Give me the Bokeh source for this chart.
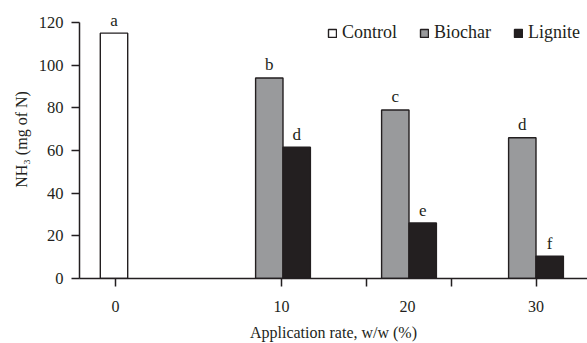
from bokeh.plotting import figure
from bokeh.models import Range1d, FixedTicker, Legend, LegendItem, ColumnDataSource
from bokeh.core.properties import value
from bokeh.embed import file_html
from bokeh.resources import INLINE

# ---- data ----
rates = ["0", "10", "20", "30"]
control_rates = ["0"]
control_vals = [115]
control_letters = ["a"]
biochar_rates = ["10", "20", "30"]
biochar_vals = [94, 79, 66]
biochar_letters = ["b", "c", "d"]
lignite_rates = ["10", "20", "30"]
lignite_vals = [61.5, 26, 10.5]
lignite_letters = ["d", "e", "f"]
x_title = "Application rate, w/w (%)"
y_title = "NH\u2083 (mg of N)"

# ---- layout (x units: 1 unit = 1 px right of the y axis) ----
FONT = "'Liberation Serif', 'Times New Roman', serif"
bar_w = 27.4
group_anchor = {"0": 34.5, "10": 203.5, "20": 329.5, "30": 456.5}
label_pos = {"0": 36, "10": 202, "20": 328, "30": 456.5}
tick_pos = [36, 202, 286.7, 372, 456.5]
INK = "#231f20"

p = figure(width=587, height=343, output_backend="svg", toolbar_location=None,
           x_range=Range1d(0, 508), y_range=Range1d(0, 130.3),
           min_border_left=79, min_border_right=0, min_border_top=0, min_border_bottom=65)
p.outline_line_color = None
p.grid.grid_line_color = None
p.background_fill_color = "white"

cx = [group_anchor[r] for r in control_rates]
bx = [group_anchor[r] - bar_w / 2 for r in biochar_rates]
lx = [group_anchor[r] + bar_w / 2 for r in lignite_rates]

rc = p.vbar(x=cx, top=control_vals, width=bar_w, fill_color="white", line_color=INK, line_width=1.4)
rb = p.vbar(x=bx, top=biochar_vals, width=bar_w, fill_color="#999a9c", line_color=INK, line_width=1.4)
rl = p.vbar(x=lx, top=lignite_vals, width=bar_w, fill_color=INK, line_color=INK, line_width=1.4)

for xs, ys, ls in [(cx, control_vals, control_letters), (bx, biochar_vals, biochar_letters), (lx, lignite_vals, lignite_letters)]:
    src = ColumnDataSource(dict(x=xs, y=ys, t=ls))
    p.text(x="x", y="y", text="t", source=src, text_align="center", text_baseline="alphabetic",
           y_offset=-13, text_font=value(FONT), text_font_size="17px", text_color=INK)

# axes
xa = p.xaxis[0]
xa.ticker = FixedTicker(ticks=[label_pos[r] for r in rates], minor_ticks=tick_pos)
xa.major_label_overrides = {label_pos[r]: r for r in rates}
xa.major_tick_out = 0
xa.major_tick_in = 0
xa.minor_tick_out = 8
xa.minor_tick_in = 0
xa.minor_tick_line_color = INK
xa.minor_tick_line_width = 1.5
xa.axis_line_color = INK
xa.axis_line_width = 1.5
xa.major_label_standoff = 14
xa.major_label_text_font = FONT
xa.major_label_text_font_size = "16px"
xa.major_label_text_color = INK
xa.axis_label = x_title
xa.axis_label_text_font = FONT
xa.axis_label_text_font_size = "16px"
xa.axis_label_text_font_style = "normal"
xa.axis_label_text_color = INK
xa.axis_label_standoff = 9

ya = p.yaxis[0]
ya.ticker = FixedTicker(ticks=[0, 20, 40, 60, 80, 100, 120])
ya.bounds = (0, 120)
ya.major_tick_out = 8
ya.major_tick_in = 0
ya.minor_tick_out = 0
ya.minor_tick_in = 0
ya.major_tick_line_color = INK
ya.major_tick_line_width = 1.5
ya.axis_line_color = INK
ya.axis_line_width = 1.5
ya.major_label_standoff = 8
ya.major_label_text_font = FONT
ya.major_label_text_font_size = "16.5px"
ya.major_label_text_color = INK
ya.axis_label = y_title
ya.axis_label_text_font = FONT
ya.axis_label_text_font_size = "16px"
ya.axis_label_text_font_style = "normal"
ya.axis_label_text_color = INK
ya.axis_label_standoff = 6

legend = Legend(items=[LegendItem(label="Control", renderers=[rc]),
                       LegendItem(label="Biochar", renderers=[rb]),
                       LegendItem(label="Lignite", renderers=[rl])],
                orientation="horizontal", location=(248, 235),
                glyph_width=10, glyph_height=10, label_standoff=5, spacing=22,
                padding=0, margin=0, border_line_color=None, background_fill_alpha=0,
                label_text_font=FONT, label_text_font_size="18px", label_text_color=INK)
p.add_layout(legend)

open("out.html", "w").write(file_html(p, INLINE))
